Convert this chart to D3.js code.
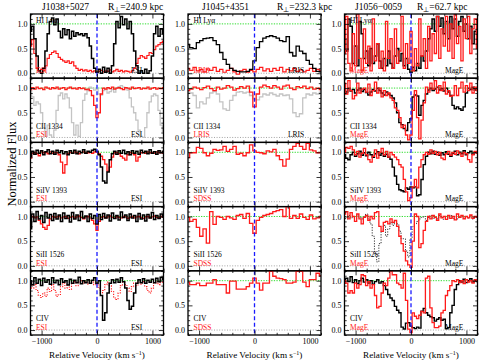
<!DOCTYPE html>
<html><head><meta charset="utf-8">
<script src="https://cdn.jsdelivr.net/npm/d3@7"></script>
<style>body{margin:0;background:#fff}svg{display:block}text{font-family:"Liberation Serif","Times New Roman",serif}</style>
</head><body><svg id="c" width="479" height="364"></svg>
<script>
// ---------- data (flux per velocity bin; bins start at -1200 km/s) ----------
const vStart = -1200;
const stepHi = 40;   // ESI / MagE bins (km/s)
const stepLo = 60;   // LRIS / SDSS bins (km/s)
const xTicks = [-1000, 0, 1000];
const yTicks = [0, 0.5, 1.0];

// J1038+5027 (ESI)
const j1038_HI_black = [0.85,0.95,0.70,0.35,0.05,0.00,0.10,0.45,0.80,1.05,1.12,0.98,1.10,0.85,0.72,0.90,0.78,0.88,0.70,0.85,0.75,0.82,0.78,0.80,0.76,0.80,0.72,0.55,0.30,0.10,0.02,0.08,0.00,0.12,0.02,0.10,0.00,0.15,0.60,1.05,0.92,1.15,0.98,1.10,0.90,1.05,0.80,0.45,0.15,0.00,0.05,0.00,0.08,0.00,0.05,0.35,0.80,0.95,0.75,0.90,0.80];
const j1038_HI_red = [0.55,0.68,0.40,0.10,0.05,0.08,0.05,0.15,0.30,0.38,0.42,0.45,0.40,0.32,0.28,0.25,0.22,0.25,0.20,0.23,0.15,0.10,0.06,0.08,0.05,0.07,0.04,0.06,0.03,0.05,0.02,0.04,0.06,0.03,0.05,0.04,0.07,0.03,0.05,0.08,0.04,0.06,0.03,0.05,0.04,0.02,0.05,0.10,0.20,0.30,0.36,0.33,0.30,0.36,0.42,0.40,0.48,0.55,0.58,0.62,0.65];
const j1038_CII_red = [0.97,1.01,0.98,1.02,0.99,1.00,0.97,1.02,1.00,0.98,1.01,0.99,1.02,0.98,1.00,1.01,0.97,1.00,1.02,0.99,1.00,0.98,1.01,0.99,1.00,0.97,0.98,0.95,0.85,0.65,0.40,0.50,0.88,1.00,0.98,1.01,0.99,1.02,0.98,1.00,1.01,0.99,0.97,1.01,1.00,0.98,1.02,0.99,1.00,1.01,0.98,1.00,0.99,1.02,0.98,1.00,1.01,0.98,1.00,0.99,1.01];
const j1038_CII_gray = [1.00,0.82,0.65,0.72,0.68,0.50,0.20,0.02,0.25,0.05,0.00,0.15,0.55,0.85,0.90,0.78,0.88,0.80,0.60,0.30,0.05,0.25,0.02,0.30,0.75,0.88,0.95,1.02,1.00,0.96,0.98,0.88,0.86,0.95,0.98,0.90,0.93,0.97,0.92,1.00,1.03,1.05,1.02,1.00,0.96,0.80,0.62,0.50,0.35,0.15,0.02,0.00,0.20,0.50,0.72,0.84,0.88,0.85,0.55,0.25,0.12];
const j1038_SiIV_black = [0.92,1.02,0.96,1.04,0.98,1.03,0.95,1.01,1.05,0.97,1.02,0.96,1.04,0.99,1.03,0.97,1.01,0.95,1.03,0.98,1.04,0.97,1.02,0.99,1.05,0.98,1.02,1.00,1.04,1.06,1.02,0.95,0.70,0.42,0.38,0.60,0.85,0.97,1.02,0.96,1.03,0.98,1.04,0.97,1.01,0.95,1.03,0.98,1.02,0.96,1.04,0.99,1.02,0.97,1.05,0.98,1.01,0.96,1.03,0.99,1.02];
const j1038_SiIV_red = [0.88,0.98,1.00,0.97,0.93,1.01,0.99,1.00,0.97,1.01,0.98,1.00,0.99,0.95,0.80,0.58,0.75,0.97,1.00,0.98,1.01,0.99,0.97,1.00,1.01,0.98,0.99,1.00,0.98,1.01,1.00,0.97,0.92,0.85,0.76,0.62,0.70,0.90,0.99,1.00,0.97,0.92,0.88,0.84,0.95,1.00,0.98,0.95,0.82,0.90,0.99,1.00,0.98,1.01,0.99,1.00,0.98,1.01,0.99,1.00,0.98];
const j1038_SiII_black = [0.75,1.05,0.90,1.10,0.95,1.02,0.88,1.08,0.97,1.04,0.92,1.06,0.95,1.03,0.90,1.07,0.96,1.02,0.89,1.08,0.95,1.03,0.92,1.10,0.97,1.01,0.90,1.05,0.96,1.02,0.85,1.04,0.94,1.06,0.97,1.03,0.91,1.07,0.96,1.02,0.93,1.09,0.98,1.03,0.92,1.05,0.97,1.02,0.90,1.06,0.95,1.03,0.91,1.04,0.97,1.08,0.94,1.02,0.96,1.05,0.99];
const j1038_SiII_red = [0.98,1.00,0.97,0.99,0.92,0.85,0.78,0.74,0.82,0.95,1.00,0.98,0.99,1.01,0.97,0.99,1.00,0.96,0.98,1.00,0.97,0.99,1.01,0.98,0.95,0.99,1.00,0.97,0.92,0.85,0.72,0.90,0.98,1.00,0.97,0.99,1.01,0.98,0.96,1.00,0.98,0.97,1.00,0.99,0.96,0.98,1.00,0.97,0.99,1.00,0.98,0.96,0.99,1.00,0.97,0.99,1.01,0.98,0.97,1.00,0.98];
const j1038_CIV_black = [1.00,0.92,1.06,0.95,1.03,0.90,1.05,0.97,1.02,0.93,1.06,0.96,1.01,0.92,1.04,0.97,1.00,0.91,1.03,0.95,1.01,0.96,1.07,0.94,1.00,0.96,1.02,0.95,1.01,1.06,0.95,1.00,0.70,0.20,0.35,0.75,0.95,1.02,0.96,1.03,0.97,1.06,0.98,0.85,0.60,0.42,0.48,0.75,0.95,1.02,0.96,1.04,0.95,1.01,0.97,1.03,0.96,1.05,0.98,1.07,1.02];
const j1038_CIV_red = [0.95,0.85,0.92,0.80,0.70,0.66,0.75,0.68,0.85,0.78,0.92,0.80,0.68,0.72,0.88,0.95,0.85,0.92,0.82,0.95,0.98,0.90,0.97,1.00,0.95,0.98,0.93,1.00,0.97,0.92,0.95,0.85,0.75,0.80,0.92,0.97,0.90,0.78,0.65,0.62,0.75,0.90,0.97,0.92,0.85,0.78,0.88,0.95,0.90,0.97,0.93,0.98,0.88,0.80,0.75,0.85,0.95,0.98,0.92,0.97,0.95];

// J1045+4351 (LRIS / SDSS)
const j1045_HI_black = [0.58,0.52,0.50,0.62,0.66,0.70,0.71,0.72,0.66,0.58,0.42,0.28,0.18,0.10,0.06,0.04,0.03,0.03,0.04,0.08,0.25,0.52,0.64,0.71,0.74,0.76,0.74,0.71,0.66,0.64,0.74,0.42,0.35,0.55,0.45,0.40,0.26,0.18,0.10,0.04,0.03];
const j1045_HI_red = [0.10,0.06,0.12,0.05,0.08,0.03,0.09,0.06,0.12,0.04,0.08,0.02,0.06,0.10,0.03,-0.02,0.05,0.08,0.02,0.06,0.03,0.08,0.12,0.05,0.09,0.04,0.10,0.06,0.12,0.03,0.08,0.05,0.10,0.04,0.07,0.03,0.06,0.10,0.04,0.08,0.05];
const j1045_CII_red = [0.95,0.98,1.02,1.00,0.97,1.01,1.04,0.99,0.95,1.02,0.98,1.00,1.05,1.02,0.96,0.99,1.03,1.00,1.04,0.92,0.62,0.88,1.02,1.06,1.03,1.00,1.05,1.02,0.98,1.04,1.06,1.00,0.97,1.03,1.01,1.04,0.99,1.02,0.98,1.00,0.97];
const j1045_CII_gray = [0.92,0.90,0.85,0.60,0.72,0.68,0.80,0.90,0.93,0.88,0.72,0.58,0.55,0.75,0.85,0.92,0.93,0.90,0.92,0.85,0.78,0.76,0.82,0.88,0.86,0.90,0.87,0.84,0.88,0.85,0.86,0.78,0.50,0.42,0.48,0.80,0.88,0.86,0.90,0.88,0.92];
const j1045_SiIV_red = [0.89,0.99,0.99,1.10,1.08,0.99,0.93,0.98,1.06,1.04,1.05,1.12,1.02,1.06,1.12,0.96,0.98,0.93,0.99,1.15,1.03,1.00,0.99,0.97,1.03,1.01,1.06,0.93,0.85,0.72,0.86,1.06,1.12,1.18,1.12,1.06,1.18,1.05,1.03,0.99,1.00];
const j1045_SiII_red = [0.98,0.90,0.94,0.78,0.60,0.75,0.46,1.10,0.84,1.00,0.98,0.94,1.00,0.97,0.94,1.02,1.04,0.96,1.06,0.86,0.66,0.92,0.98,1.02,1.04,1.06,1.10,1.12,1.14,1.00,1.20,0.96,1.02,0.96,1.05,0.98,0.94,1.03,0.95,0.97,1.00];
const j1045_CIV_red = [0.97,0.92,0.92,0.95,0.90,0.90,0.95,0.95,1.02,0.92,0.92,0.92,0.75,0.99,0.99,0.83,0.83,0.83,0.88,0.95,1.05,0.95,0.81,0.95,0.95,1.19,1.09,1.05,1.04,1.02,0.95,0.95,0.97,1.19,1.19,0.97,0.88,1.02,1.02,1.15,1.10];

// J1056-0059 (MagE)
const j1056_HI_black = [0.70,0.45,1.10,0.95,0.20,0.55,0.15,1.05,0.80,0.30,0.45,0.15,0.50,0.20,0.35,0.60,0.25,0.10,0.30,0.15,0.45,0.20,0.10,0.35,0.50,0.25,0.40,0.15,0.30,0.08,0.02,0.12,0.05,0.20,0.10,0.35,0.25,0.45,0.70,0.90,1.10,0.85,1.15,0.95,1.12,0.80,1.05,0.70,1.15,0.90,1.10,0.75,1.05,1.15,0.85,1.00,0.70,0.95,0.60,0.85,0.80];
const j1056_HI_red = [0.40,1.15,0.20,0.05,0.80,0.15,1.20,0.30,0.05,0.90,0.20,0.55,0.05,1.10,0.25,0.60,0.10,0.45,0.05,1.05,0.30,0.70,0.10,0.90,0.20,0.45,1.15,0.10,0.60,0.20,0.85,0.05,0.50,0.15,1.10,0.35,0.70,0.10,0.95,0.25,0.80,0.40,1.15,0.30,0.90,0.55,1.15,0.45,1.00,0.30,1.20,0.60,0.95,0.25,1.10,0.70,1.15,0.40,0.90,1.10,0.50];
const j1056_CII_black = [0.95,0.92,1.00,0.94,0.97,0.90,0.96,1.00,0.93,0.97,0.91,0.86,0.92,0.97,0.94,1.00,0.95,0.90,0.86,0.92,0.88,0.85,0.80,0.70,0.50,0.30,0.26,0.18,0.14,0.30,0.38,0.82,0.86,0.84,0.45,0.65,0.75,0.88,0.96,1.00,0.95,0.98,1.02,0.96,0.99,0.94,1.00,0.92,0.85,0.65,0.58,0.62,0.58,0.55,0.62,0.90,1.00,0.97,1.02,0.96,1.00];
const j1056_CII_red = [1.10,0.88,1.15,0.95,0.78,0.85,1.10,0.90,0.98,1.00,0.92,1.08,0.85,0.95,1.12,0.90,1.00,0.82,0.95,0.85,0.90,0.80,0.75,0.60,0.55,0.40,0.20,0.25,0.05,-0.05,0.05,0.55,0.95,0.40,-0.03,0.35,0.70,1.02,0.92,1.10,0.98,1.15,0.90,1.05,0.95,1.12,0.88,0.95,0.83,0.85,1.05,0.85,1.00,1.12,0.92,1.05,0.95,1.10,0.90,1.02,0.95];
const j1056_SiIV_black = [0.95,0.88,0.85,0.95,1.00,0.92,0.97,1.02,0.94,0.99,0.93,1.00,0.95,0.90,0.97,1.01,0.94,0.98,0.92,0.96,0.90,0.86,0.70,0.52,0.35,0.24,0.22,0.20,0.28,0.25,0.30,0.28,0.30,0.12,0.14,0.45,0.75,0.92,1.00,0.97,1.02,0.96,1.00,0.94,0.99,0.95,1.01,0.96,0.92,0.98,1.02,0.95,1.00,0.97,1.03,0.95,0.99,1.02,0.96,1.00,0.98];
const j1056_SiIV_red = [1.00,1.10,1.08,1.12,1.05,0.95,1.02,0.90,0.98,1.08,0.95,0.85,0.80,0.92,1.05,0.88,1.00,1.08,0.95,1.02,0.90,1.00,0.95,0.90,0.85,0.75,0.70,0.45,0.20,0.02,0.08,0.30,0.45,0.28,0.70,0.85,0.95,1.00,0.96,1.05,0.98,1.02,0.95,1.00,0.88,0.85,0.97,1.02,0.94,1.00,0.96,1.03,0.98,0.92,1.00,0.97,0.85,0.80,0.95,1.02,0.98];
const j1056_SiII_red = [1.05,1.10,0.95,1.08,1.00,0.90,1.05,0.95,0.85,0.98,1.02,0.92,1.00,0.95,1.08,1.10,0.80,0.70,0.88,0.90,0.85,0.95,0.88,0.92,0.80,0.60,0.45,0.30,0.10,0.02,-0.03,0.50,1.05,1.00,0.37,0.45,0.72,0.90,1.00,0.95,1.02,0.98,0.92,1.05,0.97,1.00,0.94,1.02,0.96,1.00,0.93,1.05,0.98,1.02,0.95,1.00,0.97,1.03,0.96,1.00,0.98];
const j1056_SiII_dotted = [1.00,0.95,1.02,0.97,1.00,0.96,1.03,0.98,0.95,1.00,1.05,0.95,0.85,0.60,0.25,0.08,0.45,0.70,0.82,0.60,0.75,0.88,0.82,0.90,0.85,0.70,0.55,0.55,0.30,0.18,0.55,0.80,0.85,0.90,0.95,0.98,1.00,0.92,0.98,1.02,0.96,1.00,0.95,1.02,0.98,0.94,1.00,0.97,1.02,0.96,1.00,0.95,0.98,1.02,0.96,1.00,0.97,1.02,0.95,1.00,0.98];
const j1056_CIV_black = [0.95,1.05,0.98,1.08,0.96,1.02,0.94,1.00,1.05,0.97,1.02,0.95,1.00,0.93,0.98,1.02,0.95,0.98,0.90,0.82,0.72,0.65,0.60,0.48,0.40,0.35,0.06,0.02,0.14,0.15,0.08,0.05,0.03,0.06,0.04,0.38,0.44,0.35,0.30,0.27,0.25,0.18,0.22,0.25,0.20,0.22,0.03,0.05,0.35,0.50,0.82,0.92,1.00,0.97,1.03,0.96,1.00,1.04,0.97,1.00,0.98];
const j1056_CIV_red = [1.00,0.95,0.75,0.80,0.75,0.95,0.85,0.92,1.12,1.10,0.90,0.98,0.85,0.92,0.70,0.45,0.48,0.75,0.95,0.90,1.05,1.20,1.12,1.12,0.95,0.92,0.85,1.15,0.60,0.02,-0.05,0.35,0.28,0.23,0.30,0.38,0.35,1.05,1.09,0.45,0.15,0.05,0.05,0.08,0.35,0.40,0.70,0.80,0.90,1.00,0.98,1.02,0.96,1.00,0.94,1.02,0.97,1.00,0.95,1.02,1.00];

// ---------- layout ----------
const RED = "#ff1a1a", BLACK = "#000", GRAY = "#c4c4c4";
const columns = [
  { name: "J1038+5027", rperp: "240.9", left: 30.5, nameX: 42, rX: 108, instX: 131, rows: [
    { ion: "HI Lyα", inst: "ESI", right: "ESI", lines: [
      { d: j1038_HI_red, step: stepHi, c: RED, w: 1.2 }, { d: j1038_HI_black, step: stepHi, c: BLACK, w: 1.5 } ] },
    { ion: "CII 1334", inst: "ESI", right: "ESI", lines: [
      { d: j1038_CII_gray, step: stepHi, c: GRAY, w: 1.3 }, { d: j1038_CII_red, step: stepHi, c: RED, w: 1.3 } ] },
    { ion: "SiIV 1393", inst: "ESI", right: "ESI", lines: [
      { d: j1038_SiIV_red, step: stepHi, c: RED, w: 1.3 }, { d: j1038_SiIV_black, step: stepHi, c: BLACK, w: 1.5 } ] },
    { ion: "SiII 1526", inst: "ESI", right: "ESI", lines: [
      { d: j1038_SiII_red, step: stepHi, c: RED, w: 1.3 }, { d: j1038_SiII_black, step: stepHi, c: BLACK, w: 1.5 } ] },
    { ion: "CIV", inst: "ESI", right: "ESI", lines: [
      { d: j1038_CIV_red, step: stepHi, c: RED, w: 1.1, dash: "1.2,1.4" }, { d: j1038_CIV_black, step: stepHi, c: BLACK, w: 1.5 } ] } ] },
  { name: "J1045+4351", rperp: "232.3", left: 188, nameX: 202, rX: 277, instX: 288, rows: [
    { ion: "HI Lyα", inst: "LRIS", right: "LRIS", lines: [
      { d: j1045_HI_red, step: stepLo, c: RED, w: 1.2 }, { d: j1045_HI_black, step: stepLo, c: BLACK, w: 1.3 } ] },
    { ion: "CII 1334", inst: "LRIS", right: "LRIS", lines: [
      { d: j1045_CII_gray, step: stepLo, c: GRAY, w: 1.3 }, { d: j1045_CII_red, step: stepLo, c: RED, w: 1.3 } ] },
    { ion: "SiIV 1393", inst: "SDSS", right: null, lines: [ { d: j1045_SiIV_red, step: stepLo, c: RED, w: 1.3 } ] },
    { ion: "SiII 1526", inst: "SDSS", right: null, lines: [ { d: j1045_SiII_red, step: stepLo, c: RED, w: 1.3 } ] },
    { ion: "CIV", inst: "SDSS", right: null, lines: [ { d: j1045_CIV_red, step: stepLo, c: RED, w: 1.3 } ] } ] },
  { name: "J1056−0059", rperp: "62.7", left: 344.5, nameX: 355, rX: 417, instX: 445, rows: [
    { ion: "HI Lyα", inst: "MagE", right: "MagE", lines: [
      { d: j1056_HI_black, step: stepHi, c: BLACK, w: 1.5 }, { d: j1056_HI_red, step: stepHi, c: RED, w: 1.3 } ] },
    { ion: "CII 1334", inst: "MagE", right: "MagE", lines: [
      { d: j1056_CII_black, step: stepHi, c: BLACK, w: 1.4 }, { d: j1056_CII_red, step: stepHi, c: RED, w: 1.3 } ] },
    { ion: "SiIV 1393", inst: "MagE", right: "MagE", lines: [
      { d: j1056_SiIV_black, step: stepHi, c: BLACK, w: 1.4 }, { d: j1056_SiIV_red, step: stepHi, c: RED, w: 1.3 } ] },
    { ion: "SiII 1526", inst: "MagE", right: "MagE", lines: [
      { d: j1056_SiII_dotted, step: stepHi, c: "#333", w: 1.0, dash: "1.2,1.4" }, { d: j1056_SiII_red, step: stepHi, c: RED, w: 1.3 } ] },
    { ion: "CIV", inst: "MagE", right: "MagE", lines: [
      { d: j1056_CIV_black, step: stepHi, c: BLACK, w: 1.4 }, { d: j1056_CIV_red, step: stepHi, c: RED, w: 1.3 } ] } ] }
];

const W = 133, TOP = 14, RH = 64.2, NR = 5;
const svg = d3.select("#c");
const defs = svg.append("defs");

columns.forEach((col, ci) => {
  const x = d3.scaleLinear().domain([-1200, 1200]).range([col.left, col.left + W]);
  col.rows.forEach((row, ri) => {
    const top = TOP + ri * RH;
    const y = d3.scaleLinear().domain([-0.1, 1.2]).range([top + RH, top]);
    const g = svg.append("g");
    const cid = `clip${ci}_${ri}`;
    defs.append("clipPath").attr("id", cid).append("rect")
      .attr("x", col.left).attr("y", top).attr("width", W).attr("height", RH);
    // reference lines
    g.append("line").attr("x1", x(-1200)).attr("x2", x(1200)).attr("y1", y(0)).attr("y2", y(0))
      .attr("stroke", "#999").attr("stroke-width", 0.9).attr("stroke-dasharray", "1,1.6");
    g.append("line").attr("x1", x(-1200)).attr("x2", x(1200)).attr("y1", y(1)).attr("y2", y(1))
      .attr("stroke", "#33dd33").attr("stroke-width", 1).attr("stroke-dasharray", "1.3,1.3");
    // spectra
    const sg = g.append("g").attr("clip-path", `url(#${cid})`);
    row.lines.forEach(L => {
      const line = d3.line().x((d, i) => x(vStart + i * L.step)).y(d => y(d)).curve(d3.curveStep);
      sg.append("path").attr("d", line(L.d)).attr("fill", "none").attr("stroke", L.c)
        .attr("stroke-width", L.w).attr("stroke-linejoin", "miter")
        .attr("stroke-dasharray", L.dash || null);
    });
    // blue dashed zero-velocity line
    g.append("line").attr("x1", x(0)).attr("x2", x(0)).attr("y1", top).attr("y2", top + RH)
      .attr("stroke", "#1a1aff").attr("stroke-width", 1.3).attr("stroke-dasharray", "4,2.5");
    // axes (inward ticks)
    const yMinor = d3.range(-0.1, 1.21, 0.1).filter(v => Math.abs(v * 2 - Math.round(v * 2)) > 1e-6);
    const xMinor = d3.range(-1200, 1201, 200).filter(v => v % 1000 !== 0);
    const ax = (gen, tr) => {
      const a = g.append("g").attr("transform", tr).call(gen);
      a.select(".domain").remove();
      a.selectAll("line").attr("stroke", "#000").attr("stroke-width", 0.8);
      a.selectAll("text").style("font-family", "Liberation Serif, serif").style("font-size", "8px").attr("fill", "#000");
      return a;
    };
    ax(d3.axisLeft(y).tickValues(yTicks).tickSize(-4.5).tickPadding(3).tickFormat(d3.format(".1f")), `translate(${col.left},0)`);
    ax(d3.axisLeft(y).tickValues(yMinor).tickSize(-2.2).tickFormat(""), `translate(${col.left},0)`);
    ax(d3.axisRight(y).tickValues(yTicks).tickSize(-4.5).tickFormat(""), `translate(${col.left + W},0)`);
    ax(d3.axisRight(y).tickValues(yMinor).tickSize(-2.2).tickFormat(""), `translate(${col.left + W},0)`);
    ax(d3.axisTop(x).tickValues(xTicks).tickSize(-4.5).tickFormat(""), `translate(0,${top})`);
    ax(d3.axisTop(x).tickValues(xMinor).tickSize(-2.2).tickFormat(""), `translate(0,${top})`);
    if (ri === NR - 1) {
      const bx = ax(d3.axisBottom(x).tickValues(xTicks).tickSize(-4.5)
        .tickFormat(d => d < 0 ? "−" + Math.abs(d) : String(d)), `translate(0,${top + RH})`);
      bx.selectAll("text").attr("y", 3.5);
    } else {
      ax(d3.axisBottom(x).tickValues(xTicks).tickSize(-4.5).tickFormat(""), `translate(0,${top + RH})`);
    }
    ax(d3.axisBottom(x).tickValues(xMinor).tickSize(-2.2).tickFormat(""), `translate(0,${top + RH})`);
    // frame
    g.append("rect").attr("x", col.left).attr("y", top).attr("width", W).attr("height", RH)
      .attr("fill", "none").attr("stroke", "#000").attr("stroke-width", 1.3);
    // labels
    const lx = col.left + 5.5;
    if (ri === 0) {
      g.append("text").attr("x", lx).attr("y", y(1) - 0.5).attr("font-size", 7.5).text(row.ion);
    } else {
      g.append("text").attr("x", lx).attr("y", y(0.175)).attr("font-size", 7.5).text(row.ion);
    }
    g.append("text").attr("x", lx).attr("y", y(0) - 0.2).attr("font-size", 7.5).attr("fill", RED).text(row.inst);
    if (row.right) g.append("text").attr("x", col.instX).attr("y", y(0) - 0.2).attr("font-size", 7.5).text(row.right);
  });
  // column titles
  svg.append("text").attr("x", col.nameX).attr("y", 10).attr("font-size", 9.5).text(col.name);
  const rt = svg.append("text").attr("x", col.rX).attr("y", 10).attr("font-size", 9.5);
  rt.append("tspan").text("R");
  rt.append("tspan").attr("font-size", 6.5).attr("dy", 2).text("⊥");
  rt.append("tspan").attr("dy", -2).text("=" + col.rperp + " kpc");
  // x-axis title
  const xt = svg.append("text").attr("x", col.left + W / 2).attr("y", 358).attr("text-anchor", "middle").attr("font-size", 9.2);
  xt.append("tspan").text("Relative Velocity (km s");
  xt.append("tspan").attr("font-size", 6).attr("dy", -3.5).text("−1");
  xt.append("tspan").attr("dy", 3.5).text(")");
});

svg.append("text").attr("transform", "translate(15.5,164) rotate(-90)").attr("text-anchor", "middle")
  .attr("font-size", 12.5).text("Normalized Flux");
</script>
</body></html>
